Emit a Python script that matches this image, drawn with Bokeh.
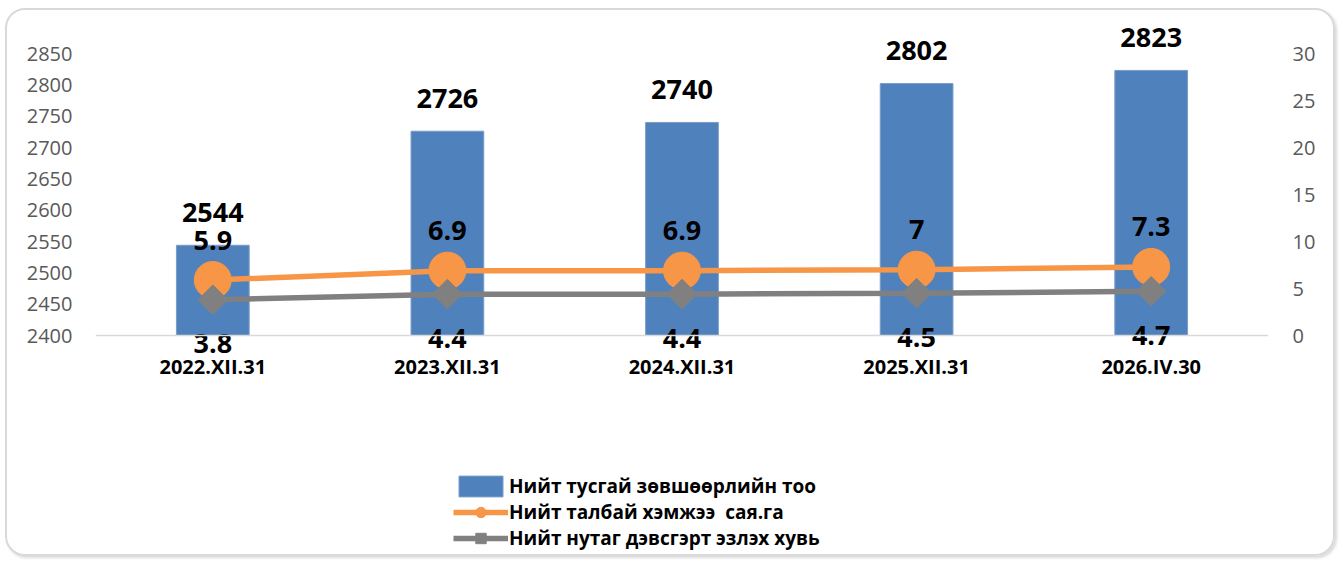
from bokeh.plotting import figure
from bokeh.models import (ColumnDataSource, FactorRange, Range1d, LinearAxis,
                          FixedTicker, Legend, LegendItem)
from bokeh.core.properties import value
from bokeh.embed import file_html
from bokeh.resources import INLINE
import math

# ---- data ----
categories = ["2022.XII.31", "2023.XII.31", "2024.XII.31", "2025.XII.31", "2026.IV.30"]
permits = [2544, 2726, 2740, 2802, 2823]          # Нийт тусгай зөвшөөрлийн тоо
area = [5.9, 6.9, 6.9, 7, 7.3]                    # Нийт талбай хэмжээ сая.га
share = [3.8, 4.4, 4.4, 4.5, 4.7]                 # Нийт нутаг дэвсгэрт эзлэх хувь

series_names = ["Нийт тусгай зөвшөөрлийн тоо",
                "Нийт талбай хэмжээ  сая.га",
                "Нийт нутаг дэвсгэрт эзлэх хувь"]

left_ticks = [2400, 2450, 2500, 2550, 2600, 2650, 2700, 2750, 2800, 2850]
right_ticks = [0, 5, 10, 15, 20, 25, 30]

FONT = "Open Sans"
BLUE = "#4F81BD"
ORANGE = "#F79646"
GRAY = "#808080"
TICK_COLOR = "#595959"

# ---- layout (pixels) ----
W, H = 1330, 548
ORIGIN_Y = 10            # figure content top in page pixels
FRAME_TOP, FRAME_BOTTOM = 12, 553
AXIS_TOP, AXIS_BOTTOM = 53, 335   # page y of top tick / bottom tick

def padded_range(lo, hi):
    ppu = (AXIS_BOTTOM - AXIS_TOP) / (hi - lo)
    return Range1d(lo - (FRAME_BOTTOM - AXIS_BOTTOM) / ppu,
                   hi + (AXIS_TOP - FRAME_TOP) / ppu)

src = ColumnDataSource(dict(
    cat=categories,
    permits=permits,
    permits_lbl=[f"{v:g}" for v in permits],
    base=[left_ticks[0]] * len(permits),
    area=area,
    area_lbl=[f"{v:g}" for v in area],
    share=share,
    share_lbl=[f"{v:g}" for v in share],
))

p = figure(width=W, height=H, x_range=FactorRange(*categories),
           y_range=padded_range(left_ticks[0], left_ticks[-1]),
           output_backend="svg", toolbar_location=None,
           min_border_left=88, min_border_right=69,
           min_border_top=FRAME_TOP - ORIGIN_Y,
           min_border_bottom=ORIGIN_Y + H - FRAME_BOTTOM)
p.styles = {"margin-left": "5px", "margin-top": "8px",
            "border": "2px solid #d9d9d9", "border-radius": "20px",
            "box-shadow": "2px 2px 3px rgba(0,0,0,0.15)"}
p.outline_line_color = None
p.background_fill_color = None
p.border_fill_color = None
p.xgrid.grid_line_color = None
p.ygrid.grid_line_color = None
p.extra_y_ranges = {"right": padded_range(right_ticks[0], right_ticks[-1])}

# axes styling
ya = p.yaxis[0]
ya.ticker = FixedTicker(ticks=left_ticks)
ya.axis_line_color = None
ya.major_tick_line_color = None
ya.minor_tick_line_color = None
ya.major_tick_out = 0
ya.major_label_standoff = 23
ya.major_label_text_font = FONT
ya.major_label_text_font_size = "20px"
ya.major_label_text_color = TICK_COLOR

raxis = LinearAxis(y_range_name="right", ticker=FixedTicker(ticks=right_ticks))
raxis.axis_line_color = None
raxis.major_tick_line_color = None
raxis.minor_tick_line_color = None
raxis.major_tick_out = 0
raxis.major_label_standoff = 24
raxis.major_label_text_font = FONT
raxis.major_label_text_font_size = "20px"
raxis.major_label_text_color = TICK_COLOR
p.add_layout(raxis, "right")

xa = p.xaxis[0]
xa.fixed_location = left_ticks[0]
xa.axis_line_color = "#D9D9D9"
xa.axis_line_width = 1.5
xa.major_tick_line_color = None
xa.minor_tick_line_color = None
xa.major_tick_out = 0
xa.major_label_standoff = 17
xa.major_label_text_font = FONT
xa.major_label_text_font_size = "20px"
xa.major_label_text_font_style = "bold"
xa.major_label_text_color = "black"

# bars
bars = p.vbar(x="cat", top="permits", bottom="base", width=0.31, source=src,
              fill_color=BLUE, line_color="#7A9CC8", line_width=1)

# orange line
l1 = p.line(x="cat", y="area", source=src, y_range_name="right",
            line_color=ORANGE, line_width=5.5)
m1 = p.scatter(x="cat", y="area", source=src, y_range_name="right",
               marker="circle", size=37, fill_color=ORANGE, line_color=ORANGE)

# gray line
l2 = p.line(x="cat", y="share", source=src, y_range_name="right",
            line_color=GRAY, line_width=5.5)
m2 = p.scatter(x="cat", y="share", source=src, y_range_name="right",
               marker="square", angle=math.pi / 4, size=21,
               fill_color=GRAY, line_color=GRAY)

# labels
common = dict(text_font=value(FONT), text_font_style="bold", text_color="black",
              text_align="center", text_baseline="middle", text_font_size="27px")
p.text(x="cat", y="permits", text="permits_lbl", source=src, y_offset=-33, **common)
p.text(x="cat", y="area", text="area_lbl", source=src, y_range_name="right",
       y_offset=-40, **common)
p.text(x="cat", y="share", text="share_lbl", source=src, y_range_name="right",
       y_offset=44, **common)

legend = Legend(items=[
    LegendItem(label=series_names[0], renderers=[bars]),
    LegendItem(label=series_names[1], renderers=[l1, m1]),
    LegendItem(label=series_names[2], renderers=[l2, m2]),
], location=(358, 2))
legend.label_text_font = FONT
legend.label_text_font_size = "19px"
legend.label_text_font_style = "bold"
legend.label_text_color = "black"
legend.glyph_width = 55
legend.glyph_height = 26
legend.label_height = 20
legend.spacing = 0
legend.padding = 0
legend.margin = 0
legend.label_standoff = 1
legend.border_line_color = None
legend.background_fill_alpha = 0
p.add_layout(legend, "center")

open("out.html", "w").write(file_html(p, INLINE))
